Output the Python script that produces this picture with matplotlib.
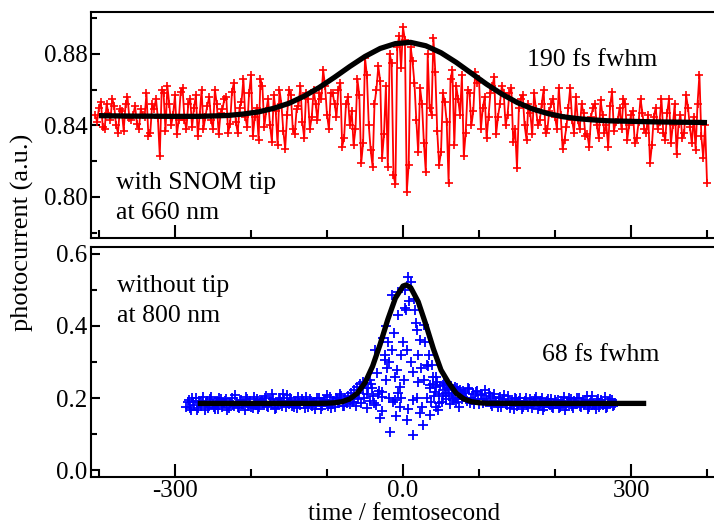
import numpy as np
import matplotlib
matplotlib.use('Agg')
import matplotlib.pyplot as plt
from matplotlib.ticker import MultipleLocator

plt.rcParams['font.family'] = ['Liberation Serif', 'DejaVu Serif']
plt.rcParams['axes.unicode_minus'] = False

# ---------------- data ----------------
# top panel: with SNOM tip, 660 nm (time in fs, photocurrent a.u.)
t_top_a = list(np.arange(-405, 400, 5)) + [400]
v_top_a = [
    # -405 .. -265
    0.846, 0.850, 0.839, 0.852, 0.843, 0.851, 0.836, 0.848, 0.852, 0.844,
    0.846, 0.841, 0.849, 0.845, 0.834, 0.852, 0.855, 0.823, 0.858, 0.862,
    0.840, 0.857, 0.843, 0.861, 0.838, 0.855, 0.850, 0.834, 0.860,
    # -260 .. -120
    0.845, 0.856, 0.838, 0.852, 0.847, 0.855, 0.836, 0.859, 0.842, 0.850,
    0.866, 0.839, 0.868, 0.845, 0.832, 0.862, 0.848, 0.840, 0.857, 0.829,
    0.852, 0.827, 0.860, 0.838, 0.849, 0.862, 0.833, 0.855, 0.845,
    # -115 .. 0
    0.852, 0.858, 0.871, 0.846, 0.858, 0.852, 0.860, 0.828, 0.852, 0.840,
    0.829, 0.866, 0.819, 0.878, 0.840, 0.817, 0.860, 0.865, 0.835, 0.817,
    0.875, 0.807, 0.890, 0.895,
    # 5 .. 135
    0.803, 0.884, 0.864, 0.825, 0.852, 0.814, 0.850, 0.889, 0.837, 0.825,
    0.853, 0.808, 0.871, 0.862, 0.846, 0.823, 0.860, 0.840, 0.870, 0.866,
    0.850, 0.833, 0.858, 0.867, 0.845, 0.862, 0.840,
    # 140 .. 280
    0.858, 0.831, 0.816, 0.855, 0.840, 0.852, 0.835, 0.849, 0.843, 0.860,
    0.838, 0.852, 0.845, 0.861, 0.827, 0.839, 0.861, 0.836, 0.843, 0.852,
    0.834, 0.828, 0.850, 0.840, 0.854, 0.836, 0.828, 0.859, 0.842,
    # 285 .. 400
    0.850, 0.855, 0.832, 0.846, 0.830, 0.842, 0.847, 0.836, 0.819, 0.845,
    0.838, 0.855, 0.832, 0.855, 0.840, 0.824, 0.846, 0.836, 0.850, 0.830,
    0.8265, 0.8685, 0.822, 0.808,
]
# interleaved samples at -402.5 .. 397.5
t_top_b = list(np.arange(-402.5, 400, 5))
v_top_b = [
    # -402.5 .. -267.5
    0.842, 0.853, 0.838, 0.847, 0.855, 0.840, 0.849, 0.837, 0.856, 0.843,
    0.851, 0.838, 0.846, 0.858, 0.836, 0.849, 0.844, 0.860, 0.837, 0.852,
    0.846, 0.835, 0.859, 0.843, 0.852, 0.839, 0.857, 0.846,
    # -262.5 .. -122.5
    0.838, 0.851, 0.843, 0.860, 0.835, 0.849, 0.856, 0.841, 0.864, 0.836,
    0.853, 0.845, 0.858, 0.834, 0.850, 0.866, 0.839, 0.855, 0.831, 0.848,
    0.860, 0.837, 0.846, 0.857, 0.835, 0.851, 0.842, 0.858, 0.838,
    # -117.5 .. -2.5
    0.860, 0.843, 0.855, 0.862, 0.838, 0.858, 0.845, 0.864, 0.833, 0.856,
    0.848, 0.838, 0.857, 0.830, 0.868, 0.826, 0.852, 0.873, 0.822, 0.862,
    0.880, 0.812, 0.884, 0.872,
    # 2.5 .. 132.5
    0.888, 0.818, 0.876, 0.843, 0.861, 0.830, 0.880, 0.846, 0.870, 0.818,
    0.858, 0.842, 0.866, 0.829, 0.855, 0.868, 0.836, 0.858, 0.848, 0.864,
    0.838, 0.856, 0.845, 0.862, 0.835, 0.852, 0.858,
    # 137.5 .. 277.5
    0.846, 0.861, 0.838, 0.850, 0.857, 0.832, 0.847, 0.858, 0.840, 0.852,
    0.836, 0.848, 0.855, 0.838, 0.846, 0.832, 0.850, 0.843, 0.856, 0.838,
    0.847, 0.835, 0.845, 0.852, 0.833, 0.846, 0.840, 0.851, 0.837,
    # 282.5 .. 397.5
    0.843, 0.838, 0.852, 0.840, 0.848, 0.833, 0.855, 0.838, 0.846, 0.829,
    0.850, 0.842, 0.836, 0.847, 0.830, 0.852, 0.841, 0.833, 0.857, 0.839,
    0.845, 0.852, 0.834, 0.840,
]

# top fit (190 fs fwhm)
t_top_fit = [-400, -390, -370, -350, -330, -310, -290, -270, -250, -230, -210,
             -190, -170, -150, -130, -110, -90, -70, -50, -30, -10, 10, 30,
             50, 70, 90, 110, 130, 150, 170, 190, 210, 230, 250, 270, 290,
             310, 330, 350, 370, 390, 400]
v_top_fit = [0.8455, 0.8454, 0.8453, 0.8452, 0.8452, 0.8451, 0.8451, 0.8451,
             0.8453, 0.8456, 0.8464, 0.8476, 0.8496, 0.8524, 0.8564, 0.8613,
             0.8670, 0.8730, 0.8786, 0.8831, 0.8858, 0.8865, 0.8846, 0.8807,
             0.8753, 0.8692, 0.8631, 0.8576, 0.8529, 0.8493, 0.8467, 0.8449,
             0.8438, 0.8431, 0.8426, 0.8424, 0.8422, 0.8420, 0.8419, 0.8418,
             0.8417, 0.8416]

# bottom panel: without tip, 800 nm
t_bot_left = list(np.arange(-285, -72, 3))
v_bot_left = [
    0.176, 0.195, 0.168, 0.188, 0.201, 0.172, 0.185, 0.193, 0.166, 0.190,
    0.180, 0.204, 0.175, 0.187, 0.170, 0.196, 0.182, 0.191, 0.168, 0.185,
    0.199, 0.177, 0.189, 0.172, 0.194, 0.183, 0.203, 0.179, 0.190, 0.171,
    0.186, 0.197, 0.176, 0.192, 0.181, 0.205, 0.174, 0.188, 0.196, 0.169,
    0.184, 0.200, 0.178, 0.193, 0.209, 0.183, 0.195, 0.174, 0.189, 0.202,
    0.180, 0.191, 0.172, 0.186, 0.198, 0.177, 0.190, 0.183, 0.201, 0.170,
    0.188, 0.195, 0.179, 0.203, 0.184, 0.174, 0.196, 0.189, 0.206, 0.178,
    0.192,
]
t_bot_left2 = list(np.arange(-283.5, -72, 3))
v_bot_left2 = [
    0.188, 0.171, 0.199, 0.181, 0.166, 0.193, 0.178, 0.204, 0.185, 0.173,
    0.197, 0.183, 0.169, 0.191, 0.200, 0.175, 0.186, 0.196, 0.171, 0.189,
    0.180, 0.207, 0.174, 0.192, 0.184, 0.168, 0.198, 0.187, 0.176, 0.202,
    0.181, 0.170, 0.194, 0.185, 0.199, 0.177, 0.190, 0.210, 0.183, 0.173,
    0.195, 0.188, 0.212, 0.176, 0.186, 0.201, 0.179, 0.192, 0.171, 0.187,
    0.197, 0.182, 0.204, 0.175, 0.193, 0.185, 0.170, 0.199, 0.188, 0.179,
    0.195, 0.208, 0.183, 0.172, 0.191, 0.200, 0.186, 0.212, 0.177, 0.199,
    0.185,
]
t_bot_mid = [-72, -70, -68, -66, -64, -62, -61, -59, -57, -55, -53, -51, -49,
             -48, -46, -44, -43, -41, -39, -37, -35, -33, -30, -28, -28, -26,
             -24, -24, -22, -21, -20, -19, -17, -15, -15, -13, -10, -10, -8,
             -6, -6, -4, -4, -2, 0, 2, 4, 5, 5, 7, 10, 13, 13, 13, 16, 17, 18,
             20, 20, 22, 24, 26, 27, 29, 31, 33, 35, 36, 36, 38, 40, 42, 44,
             44, 46, 48, 51, 53, 55, 57, 59, 62, 64, 66, 68, 70, 72, 74, 76, 78]
v_bot_mid = [0.205, 0.183, 0.214, 0.190, 0.222, 0.178, 0.231, 0.196, 0.238,
             0.186, 0.245, 0.200, 0.241, 0.172, 0.228, 0.192, 0.250, 0.228,
             0.205, 0.333, 0.180, 0.212, 0.144, 0.218, 0.204, 0.367, 0.320,
             0.305, 0.400, 0.283, 0.356, 0.200, 0.106, 0.486, 0.333, 0.188,
             0.259, 0.194, 0.278, 0.495, 0.213, 0.231, 0.176, 0.319, 0.356,
             0.449, 0.444, 0.139, 0.333, 0.537, 0.522, 0.273, 0.194, 0.097,
             0.444, 0.408, 0.389, 0.319, 0.245, 0.158, 0.283, 0.125, 0.403,
             0.356, 0.292, 0.288, 0.236, 0.227, 0.153, 0.292, 0.259, 0.218,
             0.259, 0.176, 0.167, 0.186, 0.190, 0.235, 0.222, 0.198, 0.228,
             0.182, 0.225, 0.195, 0.231, 0.188, 0.220, 0.176, 0.212, 0.196]
t_bot_mid2 = [-65, -58, -52, -47, -42, -38, -34, -31, -27, -23, -18, -12, -9,
              -7, -3, 1, 3, 6, 8, 11, 14, 19, 23, 25, 28, 32, 34, 37, 39, 41,
              43, 45, 47, 49, 52, 54, 56, 58, 60, 63, 65, 67, 69, 71, 73, 75,
              77, 79]
v_bot_mid2 = [0.200, 0.215, 0.228, 0.210, 0.238, 0.185, 0.270, 0.220, 0.165,
              0.250, 0.300, 0.380, 0.150, 0.430, 0.200, 0.250, 0.500, 0.170,
              0.470, 0.300, 0.475, 0.200, 0.360, 0.175, 0.250, 0.200, 0.320,
              0.190, 0.240, 0.205, 0.230, 0.245, 0.210, 0.232, 0.205, 0.243,
              0.215, 0.238, 0.205, 0.232, 0.212, 0.225, 0.200, 0.228, 0.198,
              0.222, 0.205, 0.219]
t_bot_right = list(np.arange(81, 280, 3))
v_bot_right = [
    0.214, 0.192, 0.225, 0.201, 0.183, 0.218, 0.197, 0.210, 0.186, 0.222,
    0.193, 0.205, 0.178, 0.212, 0.190, 0.199, 0.176, 0.196, 0.183, 0.205,
    0.172, 0.189, 0.199, 0.178, 0.192, 0.170, 0.186, 0.201, 0.175, 0.190,
    0.182, 0.197, 0.169, 0.187, 0.200, 0.176, 0.191, 0.184, 0.198, 0.171,
    0.188, 0.195, 0.175, 0.190, 0.168, 0.186, 0.199, 0.179, 0.192, 0.183,
    0.201, 0.174, 0.188, 0.194, 0.170, 0.186, 0.205, 0.180, 0.191, 0.176,
    0.195, 0.184, 0.172, 0.190, 0.198, 0.178, 0.187,
]
t_bot_right2 = list(np.arange(82.5, 279, 3))
v_bot_right2 = [
    0.199, 0.228, 0.186, 0.210, 0.195, 0.220, 0.182, 0.207, 0.198, 0.190,
    0.215, 0.184, 0.200, 0.192, 0.174, 0.203, 0.187, 0.209, 0.180, 0.193,
    0.185, 0.170, 0.196, 0.183, 0.201, 0.176, 0.191, 0.180, 0.197, 0.173,
    0.189, 0.204, 0.178, 0.193, 0.167, 0.186, 0.198, 0.181, 0.175, 0.195,
    0.184, 0.171, 0.192, 0.203, 0.177, 0.188, 0.196, 0.173, 0.185, 0.199,
    0.179, 0.190, 0.182, 0.206, 0.175, 0.193, 0.184, 0.170, 0.197, 0.186,
    0.181, 0.202, 0.176, 0.189, 0.194, 0.180,
]

# bottom fit (68 fs fwhm)
t_bot_fit = [-270, -200, -150, -120, -100, -90, -80, -70, -60, -50, -40, -30,
             -20, -10, 0, 4, 10, 20, 30, 40, 50, 60, 70, 80, 90, 100, 110,
             150, 200, 250, 320]
v_bot_fit = [0.185, 0.185, 0.185, 0.185, 0.1855, 0.1867, 0.1898, 0.1974,
             0.2133, 0.2424, 0.2882, 0.3497, 0.4180, 0.4775, 0.5109, 0.514,
             0.5070, 0.4673, 0.4045, 0.3364, 0.2777, 0.2424, 0.2133, 0.1974,
             0.1898, 0.1867, 0.1854, 0.185, 0.185, 0.185, 0.185]

# merge interleaved top samples in time order
top_pairs = sorted(zip(t_top_a + t_top_b, v_top_a + v_top_b))
t_top = [p[0] for p in top_pairs]
v_top = [p[1] for p in top_pairs]

t_bot = t_bot_left + t_bot_left2 + t_bot_mid + t_bot_mid2 + t_bot_right + t_bot_right2
v_bot = v_bot_left + v_bot_left2 + v_bot_mid + v_bot_mid2 + v_bot_right + v_bot_right2

# ---------------- figure ----------------
W, H = 714, 523
fig = plt.figure(figsize=(W / 100, H / 100), dpi=100)
ax1 = fig.add_axes([91 / W, 1 - 238 / H, (715 - 91) / W, 226 / H])
ax2 = fig.add_axes([91 / W, 1 - 477 / H, (715 - 91) / W, 230 / H])

ax1.plot(t_top, v_top, color='#ff0000', lw=1.3, marker='+', ms=6.0, mew=1.2,
         zorder=2)
ax1.plot(t_top_fit, v_top_fit, color='black', lw=3.8, zorder=3,
         solid_capstyle='butt')

ax2.plot(t_bot, v_bot, ls='none', color='#0000ff', marker='+', ms=7.4, mew=1.3,
         zorder=2)
ax2.plot(t_bot_fit, v_bot_fit, color='black', lw=3.8, zorder=3,
         solid_capstyle='butt')

for ax in (ax1, ax2):
    ax.set_xlim(-410.5, 410.5)
    ax.spines['right'].set_visible(False)
    for s in ('left', 'top', 'bottom'):
        ax.spines[s].set_linewidth(1.5)
    ax.set_xticks([-300, 0, 300])
    ax.xaxis.set_minor_locator(MultipleLocator(100))
    ax.tick_params(which='both', direction='in', top=False, right=False,
                   width=1.5, labelsize=18)
    ax.tick_params(axis='x', which='major', length=9.5, pad=2.5)
    ax.tick_params(axis='x', which='minor', length=6)
    ax.tick_params(axis='y', which='major', length=6.5, pad=2.5)
    ax.tick_params(axis='y', which='minor', length=4.5)

ax1.set_ylim(0.777, 0.9035)
ax1.set_yticks([0.80, 0.84, 0.88])
ax1.set_yticklabels(['0.80', '0.84', '0.88'])
ax1.yaxis.set_minor_locator(MultipleLocator(0.02))
ax1.set_xticklabels([])

ax2.set_ylim(-0.0194, 0.6194)
ax2.set_yticks([0.0, 0.2, 0.4, 0.6])
ax2.set_yticklabels(['0.0', '0.2', '0.4', '0.6'])
ax2.yaxis.set_minor_locator(MultipleLocator(0.1))
ax2.set_xticklabels(['-300', '0.0', '300'])


def ftext(px, py, s, **kw):
    fig.text(px / W, 1 - py / H, s, va='baseline', ha='left',
             fontsize=18.5, **kw)


ftext(527, 66, '190 fs fwhm')
ftext(116, 189, 'with SNOM tip')
ftext(116, 219, 'at 660 nm')
ftext(117, 292, 'without tip')
ftext(117, 322, 'at 800 nm')
ftext(542, 361, '68 fs fwhm')

fig.text(22 / W, 1 - 232 / H, 'photocurrent (a.u.)', rotation=90,
         ha='center', va='center', fontsize=19)
fig.text(404.5 / W, 1 - 519.5 / H, 'time / femtosecond', ha='center',
         va='baseline', fontsize=18)

fig.savefig('out.png', dpi=100)
